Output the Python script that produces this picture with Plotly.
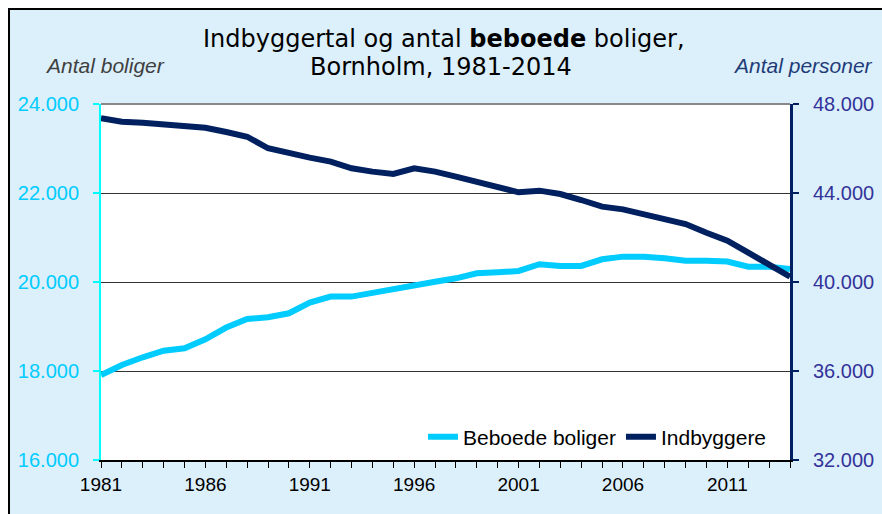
import plotly.graph_objects as go

years = list(range(1981, 2015))
boliger = [17910, 18135, 18308, 18457, 18510, 18712, 18976, 19169, 19207, 19297,
           19537, 19672, 19672, 19762, 19859, 19933, 20007, 20083, 20195, 20218,
           20248, 20400, 20360, 20360, 20510, 20570, 20570, 20533, 20480, 20480,
           20460, 20345, 20345, 20292]
indbyggere = [47357, 47205, 47160, 47100, 47040, 46935, 46740, 46530, 46010, 45785,
              45590, 45410, 45110, 44960, 44855, 45110, 44960, 44735, 44510, 44284,
              44030, 44105, 43955, 43685, 43385, 43265, 43055, 42830, 42605, 42215,
              41855, 41320, 40765, 40240]
left_ticks = [16000, 18000, 20000, 22000, 24000]
right_ticks = [32000, 36000, 40000, 44000, 48000]
x_ticks = [1981, 1986, 1991, 1996, 2001, 2006, 2011]

W, H = 882, 514
PL, PR, PT, PB = 101, 790, 104, 460   # plot area in page pixels
L, T = PL, PT
PW, PH = PR - PL, PB - PT
R = W - L - PW
B = H - T - PH

def px(x):
    return (x - PL) / PW

def py(y):
    return (PB - y) / PH

fig = go.Figure()
fig.add_trace(go.Scatter(x=years, y=boliger, name="Beboede boliger", mode="lines",
                         line=dict(color="#00CCFF", width=6), yaxis="y"))
fig.add_trace(go.Scatter(x=years, y=indbyggere, name="Indbyggere", mode="lines",
                         line=dict(color="#002060", width=6), yaxis="y2"))

fig.update_layout(
    width=W, height=H,
    margin=dict(l=L, r=R, t=T, b=B, pad=0, autoexpand=False),
    paper_bgcolor="white",
    plot_bgcolor="white",
    separators=",.",
    font=dict(family="Liberation Sans, Arial", color="black"),
    xaxis=dict(range=[1981, 2014], tickvals=x_ticks, ticks="outside", ticklen=6,
               tickcolor="black", showline=True, linecolor="black", linewidth=1.5,
               showgrid=False, zeroline=False, tickfont=dict(size=19, color="black"),
               automargin=False,
               minor=dict(tickvals=years, ticks="outside", ticklen=6, tickcolor="black", showgrid=False)),
    yaxis=dict(range=[16000, 24000], tickvals=left_ticks, tickformat=",", ticks="outside",
               ticklen=6, tickcolor="#00FFFF", tickwidth=2, showline=True, linecolor="#00FFFF",
               linewidth=2, showgrid=True, gridcolor="#333333", gridwidth=1, zeroline=False,
               tickfont=dict(size=20, color="#00CCFF"), ticklabelstandoff=10, automargin=False),
    yaxis2=dict(range=[32000, 48000], tickvals=right_ticks, tickformat=",", ticks="outside",
                ticklen=6, tickcolor="#002060", tickwidth=2, showline=True, linecolor="#002060",
                linewidth=3, showgrid=False, zeroline=False, overlaying="y", side="right",
                tickfont=dict(size=20, color="#333399"), ticklabelstandoff=10, automargin=False),
    legend=dict(orientation="h", x=px(772), xanchor="right", y=py(437), yanchor="middle",
                bgcolor="rgba(0,0,0,0)", font=dict(size=21, color="black"),
                itemwidth=30, tracegroupgap=0),
    showlegend=True,
)

# background frame
fig.add_shape(type="rect", xref="paper", yref="paper", x0=px(9), x1=px(900), y0=py(530), y1=py(9),
              fillcolor="#DCF0FC", line=dict(color="black", width=2), layer="below")
fig.add_shape(type="rect", xref="paper", yref="paper", x0=0, x1=1, y0=0, y1=1,
              fillcolor="white", line=dict(width=0), layer="below")
fig.add_shape(type="line", xref="paper", yref="paper", x0=0, x1=1, y0=1, y1=1,
              line=dict(color="#888888", width=2), layer="above")

title_font = dict(family="DejaVu Sans, Verdana", size=24, color="black")
fig.add_annotation(text="Indbyggertal og antal <b>beboede</b> boliger,",
                   xref="paper", yref="paper", x=px(444), y=py(39), xanchor="center", yanchor="middle",
                   showarrow=False, font=title_font)
fig.add_annotation(text="Bornholm, 1981-2014",
                   xref="paper", yref="paper", x=px(441), y=py(67), xanchor="center", yanchor="middle",
                   showarrow=False, font=title_font)
fig.add_annotation(text="<i>Antal boliger</i>", xref="paper", yref="paper", x=px(105), y=py(65),
                   xanchor="center", yanchor="middle", showarrow=False,
                   font=dict(family="Liberation Sans, Arial", size=21, color="#404040"))
fig.add_annotation(text="<i>Antal personer</i>", xref="paper", yref="paper", x=px(803), y=py(65),
                   xanchor="center", yanchor="middle", showarrow=False,
                   font=dict(family="Liberation Sans, Arial", size=21, color="#1F3C78"))

fig.write_html("out.html", config={"displayModeBar": False},
               post_script="document.body.style.margin='0';document.body.style.overflow='hidden';")
